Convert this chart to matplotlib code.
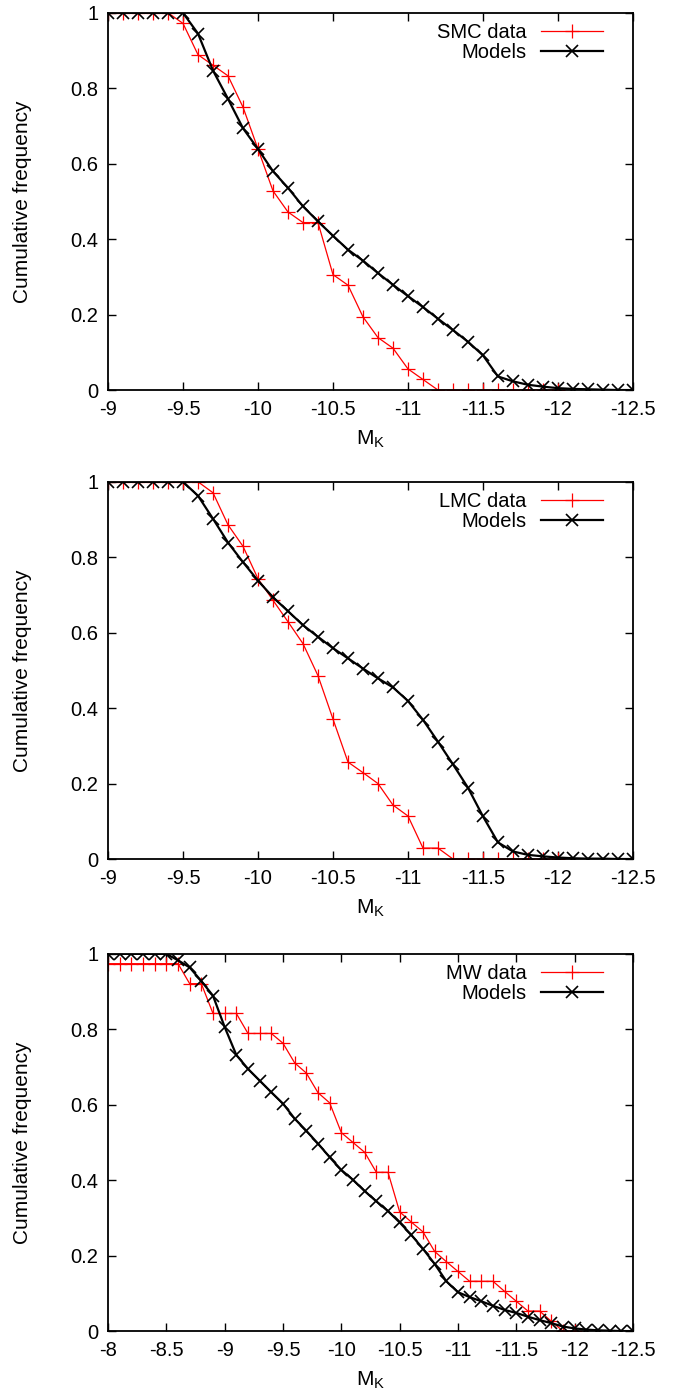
import numpy as np
import matplotlib
matplotlib.use("Agg")
import matplotlib.pyplot as plt
from matplotlib.ticker import FuncFormatter

plt.rcParams['font.family'] = ['Liberation Sans', 'DejaVu Sans']
plt.rcParams['mathtext.fontset'] = 'custom'
plt.rcParams['mathtext.rm'] = 'Liberation Sans'
plt.rcParams['mathtext.it'] = 'Liberation Sans'

# magnitude grids (0.1 mag bins)
mk_mc = np.round(np.arange(-9.0, -12.51, -0.1), 1)    # SMC / LMC panels
mk_mw = np.round(np.arange(-8.0, -12.51, -0.1), 1)    # MW panel

# ---- SMC ----
smc_data_x = np.round(np.arange(-9.0, -12.01, -0.1), 1)
smc_data = [1, 1, 1, 1, 1, 0.972, 0.889, 0.861, 0.833, 0.75, 0.639,
            0.528, 0.472, 0.444, 0.444, 0.306, 0.278, 0.194, 0.139, 0.111,
            0.056, 0.028, 0, 0, 0, 0, 0, 0, 0, 0, 0]
smc_model = [1, 1, 1, 1, 1, 1, 0.945, 0.847, 0.772, 0.694, 0.639,
             0.580, 0.536, 0.487, 0.447, 0.409, 0.372, 0.343, 0.310, 0.279,
             0.249, 0.220, 0.189, 0.159, 0.128, 0.092, 0.036, 0.023, 0.014,
             0.009, 0.005, 0.003, 0.002, 0.001, 0.0, 0.0]

# ---- LMC ----
lmc_data_x = np.round(np.arange(-9.0, -12.01, -0.1), 1)
lmc_data = [1, 1, 1, 1, 1, 1, 1, 0.971, 0.886, 0.829, 0.743,
            0.686, 0.629, 0.571, 0.486, 0.371, 0.257, 0.229, 0.2, 0.143,
            0.114, 0.029, 0.029, 0, 0, 0, 0, 0, 0, 0, 0]
lmc_model = [1, 1, 1, 1, 1, 1, 0.963, 0.902, 0.839, 0.787, 0.738,
             0.694, 0.657, 0.620, 0.589, 0.559, 0.532, 0.505, 0.479, 0.455,
             0.419, 0.369, 0.311, 0.251, 0.189, 0.113, 0.044, 0.020, 0.011,
             0.007, 0.004, 0.002, 0.001, 0.001, 0.0, 0.0]

# ---- MW ----
mw_data_x = np.round(np.arange(-8.0, -12.01, -0.1), 1)
mw_data = [0.974, 0.974, 0.974, 0.974, 0.974, 0.974, 0.974, 0.921, 0.921,
           0.842, 0.842, 0.842, 0.789, 0.789, 0.789, 0.763, 0.711, 0.684,
           0.632, 0.605, 0.526, 0.500, 0.474, 0.421, 0.421, 0.316, 0.289,
           0.263, 0.211, 0.184, 0.158, 0.132, 0.132, 0.132, 0.105, 0.079,
           0.053, 0.053, 0.026, 0, 0]
mw_model = [1, 1, 1, 1, 1, 1, 0.983, 0.964, 0.928, 0.889, 0.806,
            0.732, 0.695, 0.664, 0.633, 0.603, 0.563, 0.531, 0.497, 0.461,
            0.427, 0.401, 0.371, 0.344, 0.318, 0.288, 0.255, 0.218, 0.178,
            0.132, 0.103, 0.090, 0.079, 0.067, 0.056, 0.048, 0.038, 0.029,
            0.021, 0.012, 0.007, 0.004, 0.002, 0.001, 0.0, 0.0]

panels = [
    ("SMC data", smc_data_x, smc_data, mk_mc, smc_model, -9.0, 0.7208),
    ("LMC data", lmc_data_x, lmc_data, mk_mc, lmc_model, -9.0, 0.3851),
    ("MW data", mw_data_x, mw_data, mk_mw, mw_model, -8.0, 0.0472),
]

fig = plt.figure(figsize=(6.73, 13.97), dpi=100)

for label, dx, dy, mx, my, xstart, bottom in panels:
    ax = fig.add_axes([0.1605, bottom, 0.780, 0.2700])
    ax.plot(dx, dy, color='#ff0000', lw=0.9, marker='+', ms=9.5, mew=0.9,
            label=label)
    ax.plot(mx, my, color='black', lw=1.6, marker='x', ms=8, mew=1.2,
            label="Models")
    ax.set_xlim(xstart, -12.5)
    ax.set_ylim(0, 1)
    ax.set_xticks(np.arange(xstart, -12.51, -0.5))
    ax.set_yticks(np.arange(0, 1.01, 0.2))
    ax.xaxis.set_major_formatter(FuncFormatter(lambda v, p: "%g" % v))
    ax.yaxis.set_major_formatter(FuncFormatter(lambda v, p: "%g" % round(v, 1)))
    ax.tick_params(direction='in', length=6, width=1, top=True, right=True,
                   labelsize=14.5, pad=7)
    for s in ax.spines.values():
        s.set_linewidth(1.3)
    ax.set_xlabel(r"M$_\mathrm{K}$", fontsize=15, labelpad=7)
    ax.set_ylabel("Cumulative frequency", fontsize=15)
    ax.yaxis.set_label_coords(-0.145, 0.5)
    ax.legend(loc='upper right', bbox_to_anchor=(0.958, 0.995),
              frameon=False, markerfirst=False,
              fontsize=14.5, handlelength=3.05, handletextpad=0.75,
              labelspacing=0.05, borderaxespad=0, borderpad=0.4)

fig.savefig("out.png", dpi=100)
